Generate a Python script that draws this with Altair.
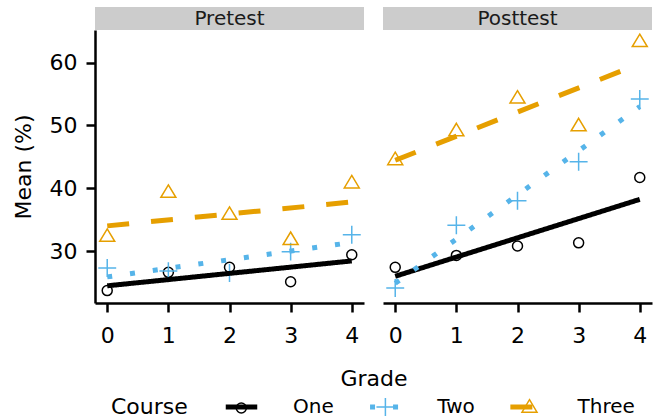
import altair as alt
import pandas as pd

# ---- data -------------------------------------------------------------
grades = [0, 1, 2, 3, 4]
tests = ["Pretest", "Posttest"]
courses = ["One", "Two", "Three"]

pre_one = [23.7, 26.6, 27.4, 25.1, 29.4]
pre_two = [27.3, 26.8, 26.5, 29.9, 32.6]
pre_three = [32.2, 39.2, 35.7, 31.7, 40.7]

post_one = [27.4, 29.3, 30.8, 31.3, 41.7]
post_two = [24.1, 34.1, 38.0, 44.2, 54.2]
post_three = [44.4, 49.0, 54.2, 49.8, 63.2]

means = {
    ("Pretest", "One"): pre_one,
    ("Pretest", "Two"): pre_two,
    ("Pretest", "Three"): pre_three,
    ("Posttest", "One"): post_one,
    ("Posttest", "Two"): post_two,
    ("Posttest", "Three"): post_three,
}

rows = []
for test in tests:
    for order, course in enumerate(courses):
        for g, m in zip(grades, means[(test, course)]):
            rows.append({"Test": test, "Course": course, "order": order,
                         "Grade": g, "Mean": m})
df = pd.DataFrame(rows)

# ---- styling ------------------------------------------------------------
FONT = "DejaVu Sans"
colors = ["#000000", "#56B4E9", "#E69F00"]
dashes = [[1, 0], [5, 18], [22, 22]]
# open markers as custom paths (unit box scaled by sqrt(size)/2)
marker_paths = [
    "M0.54,0A0.54,0.54,0,1,1,-0.54,0A0.54,0.54,0,1,1,0.54,0Z",
    "M-0.97,0H0.97M0,-0.97V0.97",
    "M0,-0.9L0.81,0.45L-0.81,0.45Z",
]
MARK_SIZE = 342.25          # sqrt = 18.5
W, H = 269, 273
STRIP = 23

all_vals = [v for s in means.values() for v in s]
span = max(all_vals) - min(all_vals)
y_dom = [min(all_vals) - 0.05 * span, max(all_vals) + 0.05 * span]

x_enc = alt.X("Grade:Q", scale=alt.Scale(domain=[-0.2, 4.2], nice=False, zero=False),
              axis=alt.Axis(values=grades, title=None, format="d"))
y_enc = alt.Y("Mean:Q", scale=alt.Scale(domain=y_dom, nice=False, zero=False),
              axis=alt.Axis(values=[30, 40, 50, 60], title="Mean (%)"))

# legend geometry: key line 63px, label 20px after it
LEG_X, LEG_Y = 16, 367
TITLE_W = 76.8 + 21.5       # "Course" width + title padding
COL_PAD = 19.3
legend_common = dict(
    orient="none", legendY=LEG_Y, direction="horizontal", columns=3,
    labelFont=FONT, labelFontSize=20, labelColor="black",
    labelOffset=41.5, symbolOffset=22,
)

base = alt.Chart()

first_row = (alt.datum.Grade == 0) & (alt.datum.Course == "One")

strip = base.transform_filter(first_row).mark_rect(color="#cccccc").encode(
    x=alt.value(0), x2=alt.value(W), y=alt.value(-STRIP), y2=alt.value(0)
)

strip_text = base.transform_filter(first_row).mark_text(
    font=FONT, fontSize=20, color="#1a1a1a", baseline="middle"
).encode(
    text="Test:N", x=alt.value(W / 2), y=alt.value(-STRIP / 2)
)

points = base.mark_point(filled=False, size=MARK_SIZE, strokeWidth=1.5, opacity=1).encode(
    x=x_enc,
    y=y_enc,
    stroke=alt.Stroke(
        "Course:N", sort=alt.EncodingSortField("order", op="min"),
        scale=alt.Scale(range=colors),
        legend=alt.Legend(title=None, legendX=LEG_X + TITLE_W,
                          symbolSize=MARK_SIZE, symbolStrokeWidth=1.5,
                          symbolFillColor="transparent", labelExpr="''",
                          columnPadding=COL_PAD + 40.8, **legend_common),
    ),
    shape=alt.Shape(
        "Course:N", sort=alt.EncodingSortField("order", op="min"),
        scale=alt.Scale(range=marker_paths),
    ),
)

fits = base.transform_regression(
    "Grade", "Mean", groupby=["Test", "Course"]
).mark_line(strokeWidth=5, strokeCap="butt").encode(
    x=x_enc,
    y=y_enc,
    color=alt.Color(
        "Course:N", scale=alt.Scale(domain=courses, range=colors),
        legend=alt.Legend(
            title="Course", legendX=LEG_X, titleOrient="left", titleFont=FONT,
            titleFontSize=22, titleFontWeight="normal", titleColor="black",
            titlePadding=21.5, titleAnchor="middle", titleBaseline="middle",
            symbolType="M-4,0H4", symbolSize=62.0, symbolStrokeWidth=5,
            columnPadding=COL_PAD, **legend_common),
    ),
    strokeDash=alt.StrokeDash("Course:N", scale=alt.Scale(domain=courses, range=dashes)),
)

chart = alt.layer(
    strip, strip_text, points, fits, data=df
).properties(width=W, height=H).facet(
    column=alt.Column(
        "Test:N", sort=tests, title="Grade",
        header=alt.Header(labels=False, titleOrient="bottom", titleFont=FONT,
                          titleFontSize=22, titleFontWeight="normal",
                          titleColor="black", titlePadding=13),
    ),
    spacing=19,
).properties(
    padding={"left": 12, "top": 7, "right": 10, "bottom": 0}
).configure_view(
    stroke=None
).configure_axis(
    grid=False, domainColor="black", domainWidth=2.5, tickColor="black",
    tickWidth=2.5, tickSize=9, labelFont=FONT, labelFontSize=22,
    labelColor="black", titleFont=FONT, titleFontSize=22,
    titleFontWeight="normal", titleColor="black",
).configure_axisX(
    labelPadding=13
).configure_axisY(
    labelPadding=9, titlePadding=14
)

chart.save("out.html", embed_options={"renderer": "svg", "actions": False})
